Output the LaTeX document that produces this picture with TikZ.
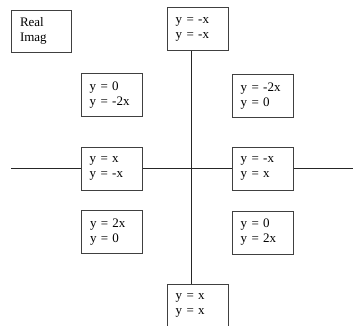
\documentclass[tikz,border=0pt]{standalone}
\usepackage{fontspec}
\setmainfont{Liberation Serif}
\begin{document}
\begin{tikzpicture}[x=1pt,y=-1pt,
  eqbox/.style={draw=black!75, line width=0.8pt, fill=white, text width=44pt, inner xsep=8.5pt,
    minimum height=43pt, align=left, font=\fontsize{13}{15}\selectfont, anchor=center},
  axis/.style={draw=black!85, line width=0.8pt}]
\useasboundingbox (0,0) rectangle (355,325);
\coordinate (vx) at (191.7,0);
\coordinate (hl) at (11,168.5);
\coordinate (hr) at (353,168.5);
\node[eqbox, text width=42pt, minimum height=42pt, inner xsep=9pt] (ri) at (41,31) {Real\\Imag};
\node[eqbox] (t) at (197.7,29) {y = -x\\y = -x};
\node[eqbox] (ul) at (111.7,95) {y = 0\\y = -2x};
\node[eqbox] (ur) at (262.7,96) {y = -2x\\y = 0};
\node[eqbox] (ml) at (111.7,168.5) {y = x\\y = -x};
\node[eqbox] (mr) at (262.7,168.5) {y = -x\\y = x};
\node[eqbox] (ll) at (112,232) {y = 2x\\y = 0};
\node[eqbox] (lr) at (262.7,232.5) {y = 0\\y = 2x};
\node[eqbox] (b) at (197.7,305.8) {y = x\\y = x};
\draw[axis] (t.south -| vx) -- (b.north -| vx);
\draw[axis] (hl) -- (ml.west);
\draw[axis] (ml.east) -- (mr.west);
\draw[axis] (mr.east) -- (hr);
\end{tikzpicture}
\end{document}
